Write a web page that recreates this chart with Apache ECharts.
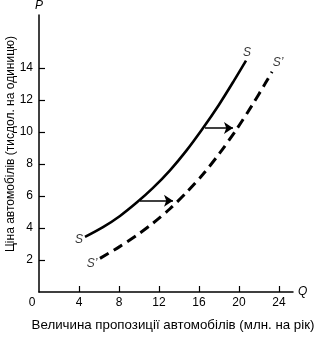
<!DOCTYPE html>
<html><head><meta charset="utf-8">
<script src="https://cdn.jsdelivr.net/npm/echarts@6/dist/echarts.min.js"></script>
<style>html,body{margin:0;padding:0;background:#fff}#c{width:325px;height:343px}</style>
</head><body><div id="c"></div>
<script>
// Data
const curveS = [[4.6,3.44],[6.4,4.05],[8.1,4.75],[9.8,5.6],[11.4,6.5],[13.1,7.6],[14.7,8.8],[16.3,10.15],[18.0,11.7],[19.5,13.2],[20.7,14.45]];
const curveS2 = [[6.1,2.1],[8.1,2.85],[9.8,3.55],[11.4,4.3],[13.1,5.2],[14.8,6.25],[16.4,7.35],[18.1,8.7],[19.8,10.2],[21.3,11.65],[22.6,13.0],[23.3,13.75]];
const shiftArrows = [[[10.1,5.7],[13.4,5.7]],[[16.6,10.25],[19.4,10.25]]];
const curveLabels = [[4.0,3.25,'S'],[5.3,1.75,'S\u2019'],[20.8,14.95,'S'],[23.9,14.3,'S\u2019']];
const xTicks = [4,8,12,16,20,24];
const yTicks = [2,4,6,8,10,12,14];
const xTitle = 'Величина пропозиції автомобілів (млн. на рік)';
const yTitle = 'Ціна автомобілів (тисдол. на одиницю)';

const font = 'Liberation Sans Narrow, Liberation Sans, Arial, sans-serif';
const chart = echarts.init(document.getElementById('c'), null, {renderer:'canvas'});
chart.setOption({
  animation:false,
  backgroundColor:'#fff',
  grid:{left:39,top:15,width:254,height:277,containLabel:false},
  xAxis:{type:'value',min:0,max:25.4,
    axisLine:{lineStyle:{color:'#000',width:1.5}},
    splitLine:{show:false},
    axisTick:{inside:true,length:6,lineStyle:{color:'#000',width:1.2},customValues:xTicks},
    axisLabel:{customValues:[0].concat(xTicks),color:'#000',fontSize:12,fontFamily:font,margin:5,
      formatter:v=>v===0?'{z|0}':String(v),rich:{z:{fontSize:12,fontFamily:font,color:'#000',padding:[0,14,0,0]}}},
    name:'Q',nameLocation:'end',nameGap:5,
    nameTextStyle:{fontStyle:'italic',fontSize:12,color:'#000',fontFamily:font}},
  yAxis:{type:'value',min:0,max:17.3,
    axisLine:{show:true,lineStyle:{color:'#000',width:1.5}},
    splitLine:{show:false},
    axisTick:{show:true,inside:true,length:6,lineStyle:{color:'#000',width:1.2},customValues:yTicks},
    axisLabel:{customValues:yTicks,color:'#000',fontSize:12,fontFamily:font,margin:6},
    name:'P',nameLocation:'end',nameGap:3,
    nameTextStyle:{fontStyle:'italic',fontSize:12,color:'#000',fontFamily:font,align:'center'}},
  graphic:[
    {type:'text',x:173,y:325,style:{text:xTitle,font:'13.3px '+font,fill:'#000',align:'center',verticalAlign:'middle'}},
    {type:'text',x:5,y:144,rotation:Math.PI/2,style:{text:yTitle,font:'12px '+font,fill:'#000',align:'center',verticalAlign:'top'}}
  ],
  series:[
    {type:'line',data:curveS,smooth:0.3,symbol:'none',lineStyle:{color:'#000',width:2.6}},
    {type:'line',data:curveS2,smooth:0.3,symbol:'none',lineStyle:{color:'#000',width:3,type:[10,6]}},
    {type:'lines',coordinateSystem:'cartesian2d',symbol:['none','arrow'],symbolSize:[0,9],
      lineStyle:{color:'#000',width:1.6,opacity:1},
      data:shiftArrows.map(c=>({coords:c}))},
    {type:'scatter',symbolSize:0,data:curveLabels.map(d=>({value:[d[0],d[1]],name:d[2]})),
      label:{show:true,position:'inside',formatter:p=>p.name,fontStyle:'italic',fontSize:12,color:'#000',fontFamily:font}}
  ]
});
</script></body></html>
